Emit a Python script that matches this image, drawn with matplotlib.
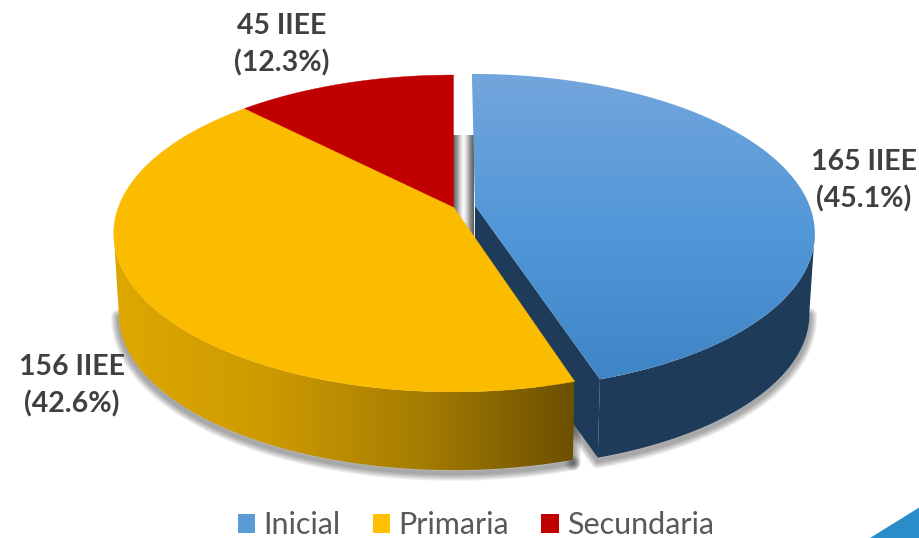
import matplotlib
matplotlib.use("Agg")
import matplotlib.pyplot as plt
import numpy as np
from matplotlib.colors import LinearSegmentedColormap
from matplotlib.patches import Patch, Polygon

categories = ["Inicial", "Primaria", "Secundaria"]
counts = [165, 156, 45]
percents = ["45.1%", "42.6%", "12.3%"]

plt.rcParams['font.family'] = ['Lato', 'DejaVu Sans']

# pie geometry, in pixels of the picture
cx, cy = 453.5, 207
rad_x, rad_y = 335, 154
persp = 0.167
depth = 81
bottom_scale = 0.985
explode = 0.065
# angle offset of the left/right silhouette from 90 degrees
tangent = np.degrees(np.arcsin(persp))


# unit circle in the pie plane -> picture, v points to the back
def project(u, v, low=False):
    w = 1 / (1 + persp * v)
    sc = bottom_scale if low else 1
    x = cx + rad_x * u * w * sc
    y = cy - rad_y * v * w * sc + (depth if low else 0)
    return np.column_stack([x, y])


def arc(t0, t1, off=(0, 0), low=False):
    t = np.radians(np.linspace(t0, t1, 200))
    return project(off[0] + np.sin(t), off[1] + np.cos(t), low)


def apex(off=(0, 0), low=False):
    return project(np.array([off[0]]), np.array([off[1]]), low)


def gradient(ax, poly, colors, horizontal, extent, z):
    cmap = LinearSegmentedColormap.from_list("g", colors)
    ramp = np.linspace(0, 1, 256)
    ramp = ramp[None, :] if horizontal else ramp[:, None]
    im = ax.imshow(ramp, cmap=cmap, extent=extent, aspect='auto', zorder=z, interpolation='bilinear')
    im.set_clip_path(poly)


def soft_shadow(ax, pts):
    for lw in [11, 9, 7, 5, 3]:
        ax.plot(pts[:, 0], pts[:, 1] + 3, color='black', alpha=0.08, lw=lw,
                solid_capstyle='round', zorder=1)


fig = plt.figure(figsize=(9.2, 5.38), dpi=100)
ax = fig.add_axes([0, 0, 1, 1])

# slice angles, clockwise from 12 o'clock
total = sum(counts)
edges = np.concatenate([[0], np.cumsum(counts)]) * 360 / total
mid = np.radians((edges[0] + edges[1]) / 2)
blue_off = (explode * np.sin(mid), explode * np.cos(mid))
left_t = 270 - tangent
right_t = 90 + tangent

# shadows under the walls
soft_shadow(ax, arc(edges[1], left_t, low=True))
soft_shadow(ax, np.vstack([arc(edges[1], edges[1]), arc(edges[1], edges[1], low=True)]))
soft_shadow(ax, np.vstack([arc(right_t, edges[1], blue_off, low=True), apex(blue_off, low=True)]))

# shaded gap between the red and the blue slice
red_x = arc(edges[3], edges[3])[0, 0]
blue_x = arc(edges[0], edges[0], blue_off)[0, 0]
gap = Polygon([[red_x, 135], [blue_x + 2, 135], [blue_x + 2, 245], [red_x, 245]], fc='none', ec='none')
ax.add_patch(gap)
gradient(ax, gap, ['#5a5a5a', '#8a8a8a', '#d0d0d0', '#ffffff', '#d0d0d0', '#8a8a8a', '#5a5a5a'], True,
         (red_x, blue_x + 2, 245, 135), 1.5)

# blue slice walls
blue_cut = Polygon(np.vstack([apex(blue_off), arc(edges[1], edges[1], blue_off),
                              arc(edges[1], edges[1], blue_off, low=True), apex(blue_off, low=True)]),
                   fc='#1e3c5a', ec='none', zorder=2)
ax.add_patch(blue_cut)
blue_wall = Polygon(np.vstack([arc(right_t, edges[1], blue_off), arc(edges[1], right_t, blue_off, low=True)]),
                    fc='#1e3c5a', ec='none', zorder=2)
ax.add_patch(blue_wall)

# yellow wall, darker to the right
yellow_wall = Polygon(np.vstack([arc(edges[1], left_t), arc(left_t, edges[1], low=True)]),
                      fc='none', ec='none')
ax.add_patch(yellow_wall)
gradient(ax, yellow_wall, ['#dfa800', '#cc9a00', '#a67d00', '#6b5000'], True, (114, 574, 480, 200), 3)

# top faces
blue_top = Polygon(np.vstack([apex(blue_off), arc(edges[0], edges[1], blue_off)]), fc='none', ec='none')
ax.add_patch(blue_top)
gradient(ax, blue_top, ['#74a6dc', '#5297d8', '#3f84c5'], False, (460, 820, 385, 70), 4)

yellow_top = Polygon(np.vstack([apex(), arc(edges[1], edges[2])]), fc='#fbbc00', ec='#fbbc00', lw=0.3, zorder=5)
red_top = Polygon(np.vstack([apex(), arc(edges[2], edges[3])]), fc='#c00000', ec='#c00000', lw=0.3, zorder=5)
ax.add_patch(yellow_top)
ax.add_patch(red_top)

# corner decoration of the slide
corner = Polygon([[870, 538], [920, 507], [920, 538]], fc='#2a8cc8', ec='none', zorder=1)
ax.add_patch(corner)

# data labels
label_pos = [(864, 181), (72, 386), (282, 45)]
for n, pct, (x, y) in zip(counts, percents, label_pos):
    ax.text(x, y, "%d IIEE\n(%s)" % (n, pct), color='#404040', fontsize=20.5, fontweight='bold',
            ha='center', va='center', linespacing=1.48, zorder=6)

ax.set_xlim(0, 920)
ax.set_ylim(538, 0)
ax.axis('off')

handles = [Patch(fc=c, ec='none') for c in ['#5b9bd5', '#ffc000', '#c00000']]
leg = ax.legend(handles, categories, loc='center', bbox_to_anchor=(476 / 920, 1 - 525 / 538), ncol=3,
                frameon=False, fontsize=22, labelcolor='#595959', handlelength=0.58, handleheight=0.58,
                handletextpad=0.27, columnspacing=1.05, borderpad=0, borderaxespad=0)
leg.set_zorder(6)

fig.savefig("out.png", dpi=100)
